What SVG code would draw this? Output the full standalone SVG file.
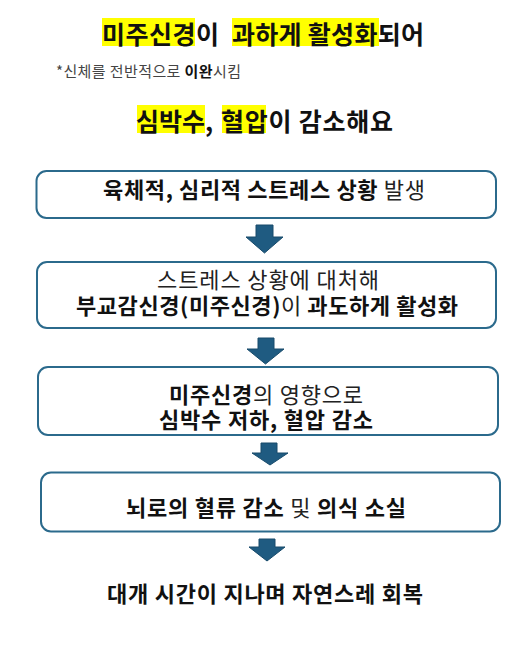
<svg xmlns="http://www.w3.org/2000/svg" width="532" height="646" viewBox="0 0 532 646">
  <style>
    text { font-family: "Noto Sans CJK KR", "Noto Sans", sans-serif; fill: #111; }
    .t { font-size: 25px; font-weight: 700; }
    .s { font-size: 15px; fill: #444; }
    .b { font-size: 22px; font-weight: 700; }
    .r { font-weight: 400; fill: #222; }
    .hl { fill: #ffff00; }
    .box { fill: #ffffff; stroke: #2b6a8c; stroke-width: 2; }
    .arr { fill: #1f5b81; stroke: #184b6b; stroke-width: 1; }
  </style>
  <rect width="532" height="646" fill="#ffffff"/>

  <g id="title">
    <rect class="hl" x="102" y="18" width="93" height="28"/>
    <rect class="hl" x="232" y="18" width="147" height="28"/>
    <text class="t" x="102" y="44" textLength="117" lengthAdjust="spacing">미주신경이</text>
    <text class="t" x="232" y="44" textLength="192" lengthAdjust="spacing">과하게 활성화되어</text>
    <text class="s" x="56" y="77" textLength="185" lengthAdjust="spacing">*신체를 전반적으로 <tspan font-weight="700" fill="#111">이완</tspan>시킴</text>
    <rect class="hl" x="137" y="105" width="68" height="28"/>
    <rect class="hl" x="222" y="105" width="44" height="28"/>
    <text class="t" x="136" y="131">심박수,</text>
    <text class="t" x="221" y="131" textLength="172" lengthAdjust="spacing">혈압이 감소해요</text>
  </g>

  <g id="node1">
    <rect class="box" x="36.5" y="171" width="459.5" height="47" rx="10"/>
    <text class="b" x="264" y="198" text-anchor="middle" textLength="322" lengthAdjust="spacing">육체적, 심리적 스트레스 상황 <tspan class="r">발생</tspan></text>
  </g>

  <g id="node2">
    <rect class="box" x="37" y="262" width="459" height="66" rx="10"/>
    <text class="b" x="268" y="288" text-anchor="middle" textLength="222" lengthAdjust="spacing"><tspan class="r">스트레스 상황에 대처해</tspan></text>
    <text class="b" x="267" y="314" text-anchor="middle" textLength="382" lengthAdjust="spacing">부교감신경(미주신경)<tspan class="r">이</tspan> 과도하게 활성화</text>
  </g>

  <g id="node3">
    <rect class="box" x="38" y="367" width="460" height="68" rx="10"/>
    <text class="b" x="266" y="403" text-anchor="middle" textLength="194" lengthAdjust="spacing">미주신경<tspan class="r">의 영향으로</tspan></text>
    <text class="b" x="266" y="428" text-anchor="middle" textLength="214" lengthAdjust="spacing">심박수 저하, 혈압 감소</text>
  </g>

  <g id="node4">
    <rect class="box" x="41" y="472.5" width="459" height="59" rx="10"/>
    <text class="b" x="266" y="516" text-anchor="middle" textLength="280" lengthAdjust="spacing">뇌로의 혈류 감소 <tspan class="r">및</tspan> 의식 소실</text>
  </g>

  <g id="node5">
    <text class="b" x="265" y="602" text-anchor="middle" textLength="316" lengthAdjust="spacing">대개 시간이 지나며 자연스레 회복</text>
  </g>

  <g id="connectors">
    <polygon class="arr" points="256,225 273,225 273,237 283,237 264.5,253 246,237 256,237"/>
    <polygon class="arr" points="258,338 274,338 274,349 284,349 265.5,364 247,349 258,349"/>
    <polygon class="arr" points="261,443 277,443 277,453 288,453 270,465 252,453 261,453"/>
    <polygon class="arr" points="259,539 275,539 275,547 285,547 267,561 249,547 259,547"/>
  </g>
</svg>
